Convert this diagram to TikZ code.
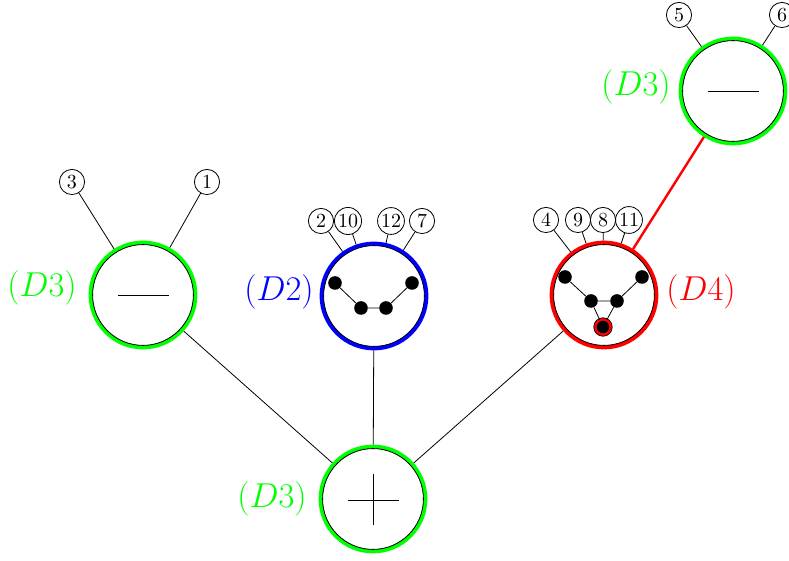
\documentclass[tikz,border=0pt]{standalone}
\usetikzlibrary{backgrounds}
\tikzset{
  big/.style={circle,draw,thin,minimum size=50.4pt,inner sep=0pt,outer sep=2pt},
  leaf/.style={circle,draw,thin,minimum size=12.6pt,inner sep=0.5pt},
  dot/.style={circle,fill=black,minimum size=6.8pt,inner sep=0pt},
  ring/.style={line width=2pt},
  tag/.style={font=\fontsize{15.9}{19}\selectfont},
}
\begin{document}
\begin{tikzpicture}[x=0.5pt,y=0.5pt]
  \useasboundingbox (0,0) rectangle (789,561);
  % big vertices
  \node[big] (sum) at (373,62) {};
  \node[big] (negL) at (143,266) {};
  \node[big] (dtwo) at (374,265) {};
  \node[big] (dfour) at (604,266) {};
  \node[big] (negT) at (733,470) {};
  \begin{scope}[on background layer]
    \draw[ring,green] (sum.center) circle (26.2pt);
    \draw[ring,green] (negL.center) circle (26.2pt);
    \draw[ring,blue] (dtwo.center) circle (26.2pt);
    \draw[ring,red] (dfour.center) circle (26.2pt);
    \draw[ring,green] (negT.center) circle (26.2pt);
  \end{scope}
  \node[tag,green] (tsum) at (272,62) {$(D3)$};
  \node[tag,green] (tnegL) at (42,273) {$(D3)$};
  \node[tag,blue] (tdtwo) at (279,269) {$(D2)$};
  \node[tag,red] (tdfour) at (701,269) {$(D4)$};
  \node[tag,green] (tnegT) at (636,474) {$(D3)$};
  \draw (sum) -- (negL);
  \draw (sum) -- (dtwo);
  \draw (sum) -- (dfour);
  \draw[red,line width=1.2pt] (dfour) -- (negT);
  % signs
  \draw (sum.center) ++(-25.5,-1) -- ++(51,0);
  \draw (sum.center) ++(0,24.5) -- ++(0,-51);
  \draw (negL.center) ++(-25.5,0) -- ++(51,0);
  \draw (negT.center) ++(-25.5,0) -- ++(51,0);
  % leaves
  \foreach \n/\x/\y/\p in {3/72/379/negL,1/207/379/negL,
      2/321/340/dtwo,10/348/340/dtwo,12/391/340/dtwo,7/422/340/dtwo,
      4/546/341/dfour,9/578/341/dfour,8/603/341/dfour,11/629/341/dfour,
      5/679/546/negT,6/782/546/negT}
    {\node[leaf] (l\n) at (\x,\y) {\n};
     \draw (l\n) -- (\p);}
  % inner graphs
  \node[dot] (b1) at (335,278) {};
  \node[dot] (b2) at (361,253) {};
  \node[dot] (b3) at (386,253) {};
  \node[dot] (b4) at (412,278) {};
  \draw (b1) -- (b2) -- (b3) -- (b4);
  \node[dot] (f1) at (565,284) {};
  \node[dot] (f2) at (591,260) {};
  \node[dot] (f3) at (617,260) {};
  \node[dot] (f4) at (642,284) {};
  \node[dot,minimum size=7.6pt,draw=black,thin,double=red,double distance=1.2pt] (f5) at (603,234) {};
  \draw (f1) -- (f2) -- (f3) -- (f4);
  \draw (f2) -- (f5) -- (f3);
\end{tikzpicture}
\end{document}
